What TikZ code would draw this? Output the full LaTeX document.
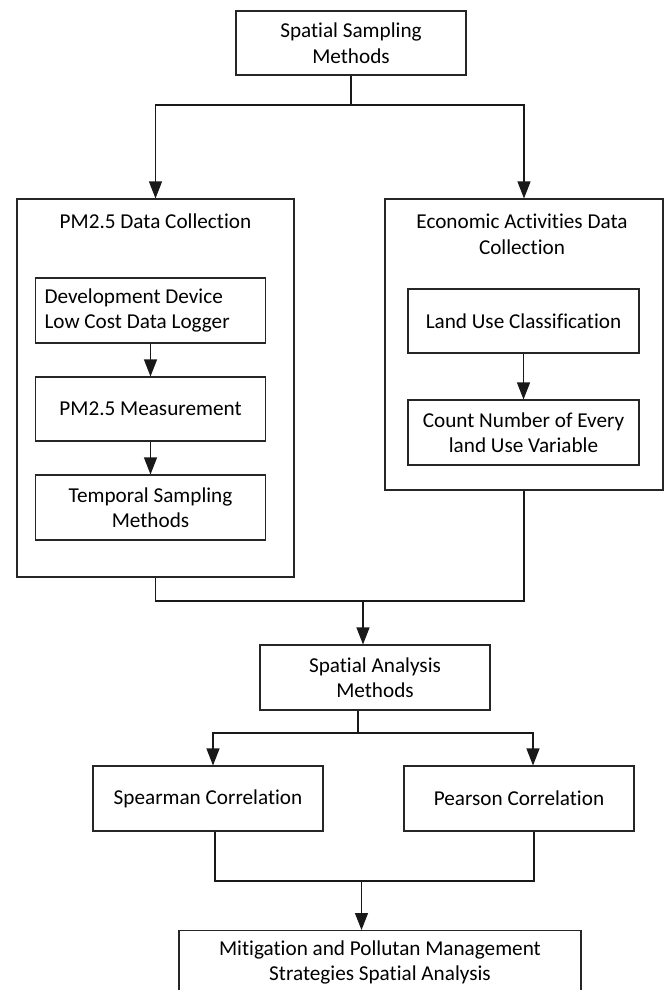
\documentclass[tikz,border=0pt]{standalone}
\usepackage{fontspec}
\setmainfont{Carlito}[RawFeature={-liga}]
\usetikzlibrary{arrows.meta,calc}
\tikzset{
  box/.style={draw=black!85, line width=1.1pt, rectangle, align=center, inner sep=4pt,
    font=\fontsize{21.2}{25.5}\selectfont},
  outer/.style={draw=black!85, line width=1.1pt, rectangle},
  ttl/.style={align=center, font=\fontsize{21.2}{26}\selectfont, inner sep=0pt},
  conn/.style={line width=1.1pt, black!90},
  arr/.style={conn, -{Triangle[length=17pt,width=13pt]}},
}
\begin{document}
\begin{tikzpicture}[x=1pt,y=-1pt]
\useasboundingbox (0,0) rectangle (665,990);
\clip (0,0) rectangle (665,990);
% top
\node[box, minimum width=230pt, minimum height=64pt] (top) at (351,43) {Spatial Sampling\\Methods};
% outer boxes
\node[outer, minimum width=277pt, minimum height=378pt] (pmbox) at (155.5,388) {};
\node[outer, minimum width=278pt, minimum height=291pt] (ecobox) at (524,344.5) {};
\node[ttl] (pmttl) at (155.5,221) {PM2.5 Data Collection};
\node[ttl] (ecottl) at (522,234) {Economic Activities Data\\Collection};
% left inner
\node[box, minimum width=230pt, minimum height=65pt, text width=212pt, align=flush left, inner xsep=9pt] (d1) at (150.5,310.5) {Development Device\\Low Cost Data Logger};
\node[box, minimum width=230pt, minimum height=64pt] (d2) at (150.5,409) {PM2.5 Measurement};
\node[box, minimum width=230pt, minimum height=65pt] (d3) at (150.5,507.5) {Temporal Sampling\\Methods};
% right inner
\node[box, minimum width=231pt, minimum height=64pt] (e1) at (523.5,321) {Land Use Classification};
\node[box, minimum width=231pt, minimum height=65pt] (e2) at (523.5,432.5) {Count Number of Every\\land Use Variable};
% spatial analysis
\node[box, minimum width=230pt, minimum height=65pt] (sa) at (375,677.5) {Spatial Analysis\\Methods};
\node[box, minimum width=230pt, minimum height=65pt] (sp) at (208,798.5) {Spearman Correlation};
\node[box, minimum width=230pt, minimum height=65pt] (pe) at (519,798.5) {Pearson Correlation};
\node[box, minimum width=402pt, minimum height=64pt, anchor=north] (fin) at (380,930) {Mitigation and Pollutan Management\\Strategies Spatial Analysis};
% connectors
\coordinate (t1) at (351,105);
\draw[conn] (top.south) -- (t1);
\draw[arr] (t1) -| (pmbox.north);
\draw[arr] (t1) -| (ecobox.north);
\draw[arr] (d1) -- (d2);
\draw[arr] (d2) -- (d3);
\draw[arr] (e1) -- (e2);
\coordinate (m1) at (363,601);
\draw[conn] (pmbox.south) |- (m1) -| (ecobox.south);
\draw[arr] (m1) -- (m1 |- sa.north);
\coordinate (s1) at (358,733);
\draw[conn] (s1 |- sa.south) -- (s1);
\draw[arr] (s1) -| ([xshift=5pt]sp.north);
\draw[arr] (s1) -| ([xshift=14pt]pe.north);
\coordinate (b1) at (361.5,881);
\draw[conn] ([xshift=7pt]sp.south) |- (b1) -| ([xshift=15pt]pe.south);
\draw[arr] (b1) -- (b1 |- fin.north);
\end{tikzpicture}
\end{document}
